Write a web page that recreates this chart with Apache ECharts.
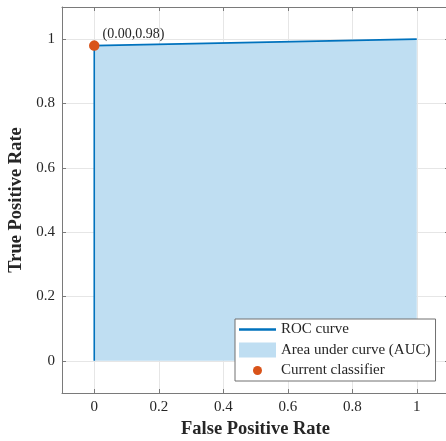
<!DOCTYPE html>
<html>
<head>
<meta charset="utf-8">
<script src="https://cdn.jsdelivr.net/npm/echarts@6/dist/echarts.min.js"></script>
<style>html,body{margin:0;padding:0;background:#fff}#c{width:446px;height:441px}</style>
</head>
<body>
<div id="c"></div>
<script>
// Data
var rocX = [0, 0, 1];
var rocY = [0, 0.98, 1];
var classifierPoint = [0, 0.98];
var tickValues = [0, 0.2, 0.4, 0.6, 0.8, 1];
var seriesNames = ['ROC curve', 'Area under curve (AUC)', 'Current classifier'];
var pointLabel = '(0.00,0.98)';
var centerText = ['Positive class: "Leak"', 'AUC = 0.99'];

var FONT = '"Liberation Serif", "DejaVu Serif", serif';
var TXT = '#262626';
var AXC = '#7a7a7a';

var rocData = rocX.map(function (x, i) { return [x, rocY[i]]; });

var chart = echarts.init(document.getElementById('c'), null, {renderer: 'canvas'});

function fmt(v) { return String(Math.round(v * 10) / 10); }

function xAxisCfg(pos, show) {
  return {
    type: 'value', position: pos, min: -0.1, max: 1.1,
    axisLine: {show: true, onZero: false, lineStyle: {color: AXC, width: 1}},
    axisTick: {show: true, inside: true, length: 4, customValues: tickValues, lineStyle: {color: AXC}},
    axisLabel: {show: show, customValues: tickValues, margin: 7, color: TXT, fontFamily: FONT, fontSize: 15, formatter: fmt},
    splitLine: {show: show, lineStyle: {color: '#e6e6e6', width: 1}},
    name: show ? 'False Positive Rate' : '', nameLocation: 'middle', nameGap: 26,
    nameTextStyle: {fontFamily: FONT, fontSize: 18.5, fontWeight: 'bold', color: TXT}
  };
}
function yAxisCfg(pos, show) {
  return {
    type: 'value', position: pos, min: -0.1, max: 1.1,
    axisLine: {show: true, onZero: false, lineStyle: {color: AXC, width: 1}},
    axisTick: {show: true, inside: true, length: 4, customValues: tickValues, lineStyle: {color: AXC}},
    axisLabel: {show: show, customValues: tickValues, margin: 7, color: TXT, fontFamily: FONT, fontSize: 15, formatter: fmt},
    splitLine: {show: show, lineStyle: {color: '#e6e6e6', width: 1}},
    name: show ? 'True Positive Rate' : '', nameLocation: 'middle', nameGap: 33,
    nameTextStyle: {fontFamily: FONT, fontSize: 18.5, fontWeight: 'bold', color: TXT}
  };
}

chart.setOption({
  animation: false,
  backgroundColor: '#fff',
  grid: {left: 62, top: 7, width: 387, height: 386, containLabel: false, outerBoundsMode: 'none'},
  xAxis: [xAxisCfg('bottom', true), xAxisCfg('top', false)],
  yAxis: [yAxisCfg('left', true), yAxisCfg('right', false)],
  legend: {
    orient: 'vertical', left: 235, top: 319, width: 203,
    backgroundColor: '#fff', borderColor: '#707070', borderWidth: 1, borderRadius: 0,
    padding: [3, 5, 3, 4],
    itemWidth: 37, itemHeight: 15, itemGap: 5.5,
    textStyle: {fontFamily: FONT, fontSize: 15, color: TXT},
    data: [
      {name: seriesNames[0], icon: 'path://M0,0L40,0L40,2.6L0,2.6Z'},
      {name: seriesNames[1], icon: 'path://M0,0L40,0L40,16.2L0,16.2Z'},
      {name: seriesNames[2], icon: 'path://M0,0L0,0M37,15L37,15M14,7.5A4.5,4.5 0 1,0 23,7.5A4.5,4.5 0 1,0 14,7.5Z'}
    ]
  },
  series: [
    {
      name: seriesNames[1], type: 'line', data: rocData, symbol: 'none',
      lineStyle: {width: 0, opacity: 0},
      itemStyle: {color: '#bfdef2'},
      areaStyle: {color: '#bfdef2', opacity: 1},
      z: 1
    },
    {
      name: seriesNames[0], type: 'line', data: rocData, symbol: 'none',
      lineStyle: {width: 1.6, color: '#0072BD'},
      itemStyle: {color: '#0072BD'},
      z: 2
    },
    {
      name: seriesNames[2], type: 'scatter', data: [classifierPoint], symbolSize: 10.5,
      itemStyle: {color: '#D95319', opacity: 1},
      label: {show: true, position: 'right', distance: 3, offset: [0, -11],
        formatter: pointLabel, fontFamily: FONT, fontSize: 14, color: TXT},
      z: 3
    }
  ],
  graphic: [
    {type: 'text', x: 256, y: 183, silent: true, style: {text: centerText[0], fontFamily: FONT, fontSize: 15.5, fill: TXT, align: 'center', verticalAlign: 'middle'}},
    {type: 'text', x: 256, y: 199, silent: true, style: {text: centerText[1], fontFamily: FONT, fontSize: 15.5, fontWeight: 'bold', fill: TXT, align: 'center', verticalAlign: 'middle'}}
  ]
});
</script>
</body>
</html>
